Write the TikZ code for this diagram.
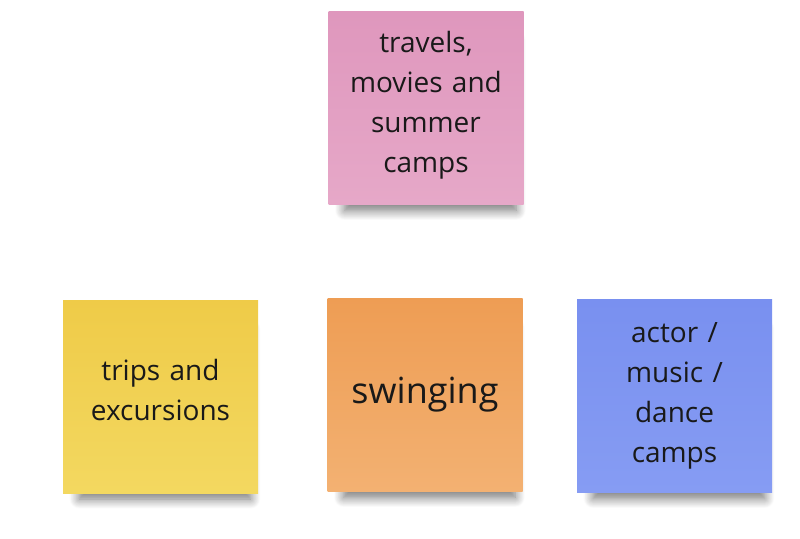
\documentclass[tikz,border=0pt]{standalone}
\usepackage{fontspec}
\setmainfont{Open Sans}
\usetikzlibrary{shadows.blur}
\definecolor{pinkTop}{HTML}{DF97BD}
\definecolor{pinkBot}{HTML}{E6A8C8}
\definecolor{yellowTop}{HTML}{EFCB48}
\definecolor{yellowBot}{HTML}{F3D860}
\definecolor{orangeTop}{HTML}{EE9D54}
\definecolor{orangeBot}{HTML}{F3B172}
\definecolor{blueTop}{HTML}{7990F0}
\definecolor{blueBot}{HTML}{869CF3}
\begin{document}
\begin{tikzpicture}
        [
        x = 1pt, y = -1pt,
        note/.style = {rectangle, minimum width = 195pt, minimum height = 193pt,
            text width = 180pt, align = center, inner sep = 0pt,
            text = black!90, font = \fontsize{28}{40}\selectfont,
            blur shadow = {shadow xshift = 5pt, shadow yshift = -20pt,
                shadow scale = 0.88, shadow opacity = 55, shadow blur radius = 11pt,
                shadow blur steps = 12}},
        ]
        \tikzstyle{pink note}=[note, top color=pinkTop, bottom color=pinkBot]
        \tikzstyle{yellow note}=[note, top color=yellowTop, bottom color=yellowBot]
        \tikzstyle{orange note}=[note, top color=orangeTop, bottom color=orangeBot]
        \tikzstyle{blue note}=[note, top color=blueTop, bottom color=blueBot]

        \useasboundingbox (0,0) rectangle (800,538);

        \node[pink note] (travels) at (426,108) {travels,\\movies and\\summer\\camps\vspace{6pt}};
        \node[yellow note] (trips) at (160.5,396.5) {trips and\\excursions\vspace{14pt}};
        \node[orange note, font=\fontsize{36}{44}\selectfont] (swinging) at (425,395) {swinging};
        \node[blue note] (camps) at (674.5,396) {actor /\\music /\\dance\\camps};
    \end{tikzpicture}
\end{document}
